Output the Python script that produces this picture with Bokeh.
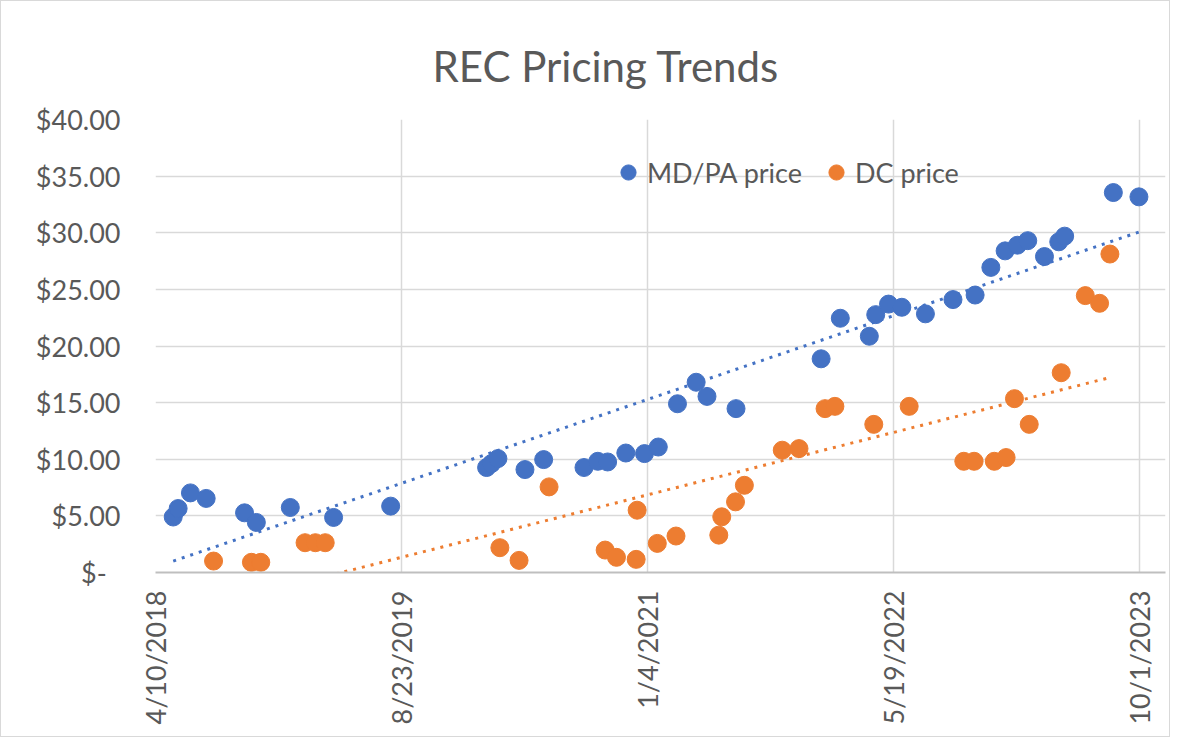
import math
import numpy as np
import pandas as pd
from bokeh.plotting import figure
from bokeh.models import ColumnDataSource, FixedTicker, Legend, LegendItem, Range1d
from bokeh.embed import file_html
from bokeh.resources import INLINE

# ---------------- data ----------------
mdpa_dates = ["2018-05-16", "2018-05-26", "2018-06-20", "2018-07-22", "2018-10-08",
              "2018-11-01", "2019-01-09", "2019-04-07", "2019-08-01", "2020-02-12",
              "2020-02-22", "2020-03-06", "2020-04-30", "2020-06-07", "2020-08-28",
              "2020-09-25", "2020-10-15", "2020-11-21", "2020-12-29", "2021-01-26",
              "2021-03-06", "2021-04-13", "2021-05-05", "2021-07-03", "2021-12-23",
              "2022-01-31", "2022-03-31", "2022-04-13", "2022-05-09", "2022-06-05",
              "2022-07-23", "2022-09-17", "2022-11-01", "2022-12-03", "2023-01-01",
              "2023-01-26", "2023-02-16", "2023-03-22", "2023-04-20", "2023-05-02",
              "2023-08-09", "2023-09-30"]
mdpa_price = [4.90, 5.65, 7.03, 6.54, 5.27,
              4.42, 5.74, 4.86, 5.86, 9.27,
              9.62, 10.06, 9.09, 9.97, 9.27,
              9.82, 9.76, 10.55, 10.50, 11.08,
              14.90, 16.80, 15.55, 14.47, 18.87,
              22.45, 20.86, 22.77, 23.70, 23.42,
              22.84, 24.10, 24.50, 26.94, 28.40,
              28.90, 29.30, 27.90, 29.20, 29.70,
              33.55, 33.17]

dc_dates = ["2018-08-06", "2018-10-22", "2018-11-10", "2019-02-08", "2019-03-01",
            "2019-03-21", "2020-03-10", "2020-04-18", "2020-06-18", "2020-10-10",
            "2020-11-02", "2020-12-12", "2020-12-14", "2021-01-24", "2021-03-03",
            "2021-05-29", "2021-06-04", "2021-07-02", "2021-07-20", "2021-10-05",
            "2021-11-08", "2021-12-31", "2022-01-20", "2022-04-09", "2022-06-20",
            "2022-10-09", "2022-10-30", "2022-12-10", "2023-01-03", "2023-01-20",
            "2023-02-19", "2023-04-25", "2023-06-13", "2023-07-12", "2023-08-02"]
dc_price = [1.01, 0.90, 0.90, 2.63, 2.63,
            2.63, 2.19, 1.07, 7.56, 1.98,
            1.34, 1.16, 5.50, 2.57, 3.22,
            3.30, 4.92, 6.24, 7.70, 10.80,
            10.94, 14.47, 14.67, 13.08, 14.67,
            9.82, 9.82, 9.82, 10.15, 15.35,
            13.08, 17.64, 24.45, 23.77, 28.12]

x_tick_dates = ["2018-04-10", "2019-08-23", "2021-01-04", "2022-05-19", "2023-10-01"]
x_tick_labels = ["4/10/2018", "8/23/2019", "1/4/2021", "5/19/2022", "10/1/2023"]
x_axis_end = "2023-11-23"

y_ticks = [0, 5, 10, 15, 20, 25, 30, 35, 40]
y_tick_labels = ["$-\u00a0\u00a0", "$5.00", "$10.00", "$15.00", "$20.00",
                 "$25.00", "$30.00", "$35.00", "$40.00"]

series_names = ["MD/PA price", "DC price"]
BLUE = "#4472C4"
ORANGE = "#ED7D31"
TEXT = "#595959"
GRID = "#d9d9d9"
FONT = "Lato"


def to_ms(dates):
    return [int(pd.Timestamp(d).value // 10**6) for d in dates]


def trend(dates, prices):
    ms = np.array(to_ms(dates), dtype=float)
    days = ms / 86400000.0
    slope, icpt = np.polyfit(days, np.array(prices), 1)
    xs = np.array([days.min(), days.max()])
    return xs * 86400000.0, slope * xs + icpt


blue_src = ColumnDataSource(dict(x=to_ms(mdpa_dates), y=mdpa_price))
orange_src = ColumnDataSource(dict(x=to_ms(dc_dates), y=dc_price))

x_ticks_ms = to_ms(x_tick_dates)

p = figure(width=1170, height=737, x_axis_type="datetime",
           x_range=Range1d(start=x_ticks_ms[0], end=to_ms([x_axis_end])[0]),
           y_range=Range1d(start=0, end=40),
           output_backend="svg", toolbar_location=None,
           min_border_left=154, min_border_right=6,
           min_border_top=118, min_border_bottom=166,
           title="REC Pricing Trends")

p.title.align = "left"
p.title.text_font = FONT
p.title.text_font_size = "42px"
p.title.text_font_style = "normal"
p.title.text_color = TEXT
p.title.offset = 277
p.title.standoff = 58

p.outline_line_color = None
p.background_fill_color = "white"
p.border_fill_color = "white"

# grids
p.xgrid.ticker = FixedTicker(ticks=x_ticks_ms)
p.ygrid.ticker = FixedTicker(ticks=y_ticks)
p.xgrid.grid_line_color = GRID
p.ygrid.grid_line_color = GRID
p.xgrid.grid_line_width = 1.5
p.ygrid.grid_line_width = 1.5

# x axis
p.xaxis.ticker = FixedTicker(ticks=x_ticks_ms)
p.xaxis.major_label_overrides = {t: lab for t, lab in zip(x_ticks_ms, x_tick_labels)}
p.xaxis.major_label_orientation = math.pi / 2
p.xaxis.axis_line_color = "#bfbfbf"
p.xaxis.axis_line_width = 2
p.xaxis.major_tick_line_color = None
p.xaxis.minor_tick_line_color = None
p.xaxis.major_tick_out = 0
p.xaxis.major_label_standoff = 18
p.xaxis.major_label_text_font = FONT
p.xaxis.major_label_text_font_size = "27px"
p.xaxis.major_label_text_color = TEXT

# y axis
p.yaxis.ticker = FixedTicker(ticks=y_ticks)
p.yaxis.major_label_overrides = {t: lab for t, lab in zip(y_ticks, y_tick_labels)}
p.yaxis.axis_line_color = None
p.yaxis.major_tick_line_color = None
p.yaxis.minor_tick_line_color = None
p.yaxis.major_tick_out = 0
p.yaxis.major_label_standoff = 35
p.yaxis.major_label_text_font = FONT
p.yaxis.major_label_text_font_size = "27px"
p.yaxis.major_label_text_color = TEXT

# trendlines
bx, by = trend(mdpa_dates, mdpa_price)
ox, oy = trend(dc_dates, dc_price)
p.line(bx, by, line_color=BLUE, line_width=3, line_dash="3 6")
p.line(ox, oy, line_color=ORANGE, line_width=3, line_dash="3 6")

# points
r_blue = p.scatter("x", "y", source=blue_src, size=18, fill_color=BLUE, line_color=BLUE)
r_orange = p.scatter("x", "y", source=orange_src, size=18, fill_color=ORANGE, line_color=ORANGE)

legend = Legend(items=[LegendItem(label=series_names[0], renderers=[r_blue]),
                       LegendItem(label=series_names[1], renderers=[r_orange])],
                orientation="horizontal", location=(454, 381))
legend.background_fill_alpha = 0
legend.border_line_color = None
legend.label_text_font = FONT
legend.label_text_font_size = "27px"
legend.label_text_color = TEXT
legend.glyph_width = 38
legend.glyph_height = 38
legend.label_standoff = -13
legend.spacing = 15
legend.padding = 0
legend.margin = 0
p.add_layout(legend, "center")

p.styles = {"border": "1.5px solid #d9d9d9"}

open("out.html", "w").write(file_html(p, INLINE))
